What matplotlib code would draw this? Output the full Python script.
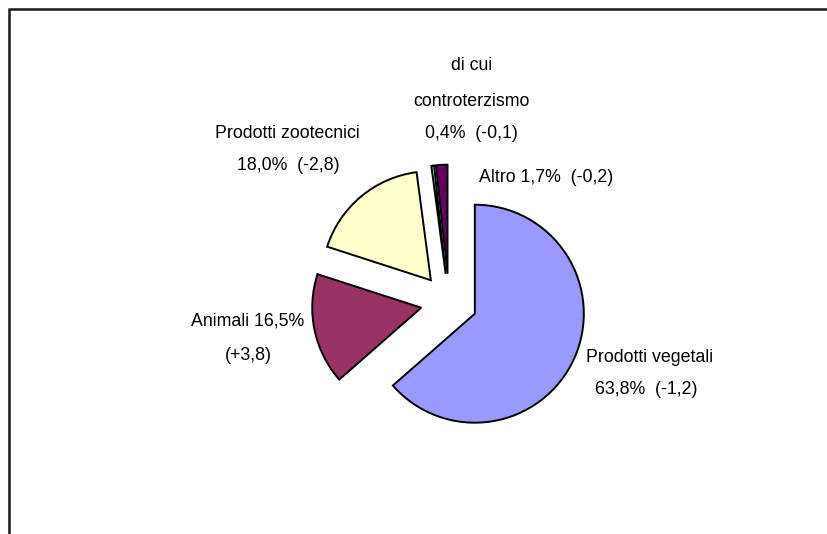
import matplotlib
matplotlib.use("Agg")
import matplotlib.pyplot as plt

# Data
categories = ["Prodotti vegetali", "Animali", "Prodotti zootecnici",
              "di cui controterzismo", "Altro"]
shares = [63.8, 16.5, 18.0, 0.4, 1.7]
changes = ["-1,2", "+3,8", "-2,8", "-0,1", "-0,2"]
colors = ["#9999FF", "#993366", "#FFFFCC", "#CCFFFF", "#660066"]

W, H = 827, 534
fig = plt.figure(figsize=(W / 100, H / 100), dpi=100)
ax = fig.add_axes([0, 0, 1, 1])

def Y(y):
    return H - y

R = 109
ax.pie(shares, colors=colors, startangle=90, counterclock=False,
       explode=[0.26 * R] * len(shares), center=(449, Y(302)), radius=R,
       frame=True,
       wedgeprops=dict(edgecolor="black", linewidth=1.4, antialiased=True))

ax.set_xlim(0, W)
ax.set_ylim(0, H)
ax.set_aspect("equal")
ax.axis("off")

fs = 12.8
font = dict(family=["Liberation Sans", "DejaVu Sans"], fontsize=fs,
            ha="center", va="center", color="black")

def pct(v):
    return f"{v:.1f}".replace(".", ",") + "%"

# labels
ax.text(472, Y(66), "di cui", **font)
ax.text(471, Y(101), "controterzismo", **font)
ax.text(471, Y(133), f"{pct(shares[3])}  ({changes[3]})", **font)

ax.text(287, Y(133), categories[2], **font)
ax.text(288, Y(166), f"{pct(shares[2])}  ({changes[2]})", **font)

ax.text(546, Y(178), f"{categories[4]} {pct(shares[4])}  ({changes[4]})", **font)

ax.text(248, Y(321), f"{categories[1]} {pct(shares[1])}", **font)
ax.text(248, Y(356), f"({changes[1]})", **font)

ax.text(650, Y(357), categories[0], **font)
ax.text(646, Y(390), f"{pct(shares[0])}  ({changes[0]})", **font)

# frame lines (top and left visible)
ax.plot([8, W], [Y(9), Y(9)], color="#1a1a1a", lw=1.8, clip_on=False,
        solid_capstyle="butt")
ax.plot([9, 9], [Y(9), 0], color="#1a1a1a", lw=1.8, clip_on=False,
        solid_capstyle="butt")

fig.savefig("out.png", dpi=100)
